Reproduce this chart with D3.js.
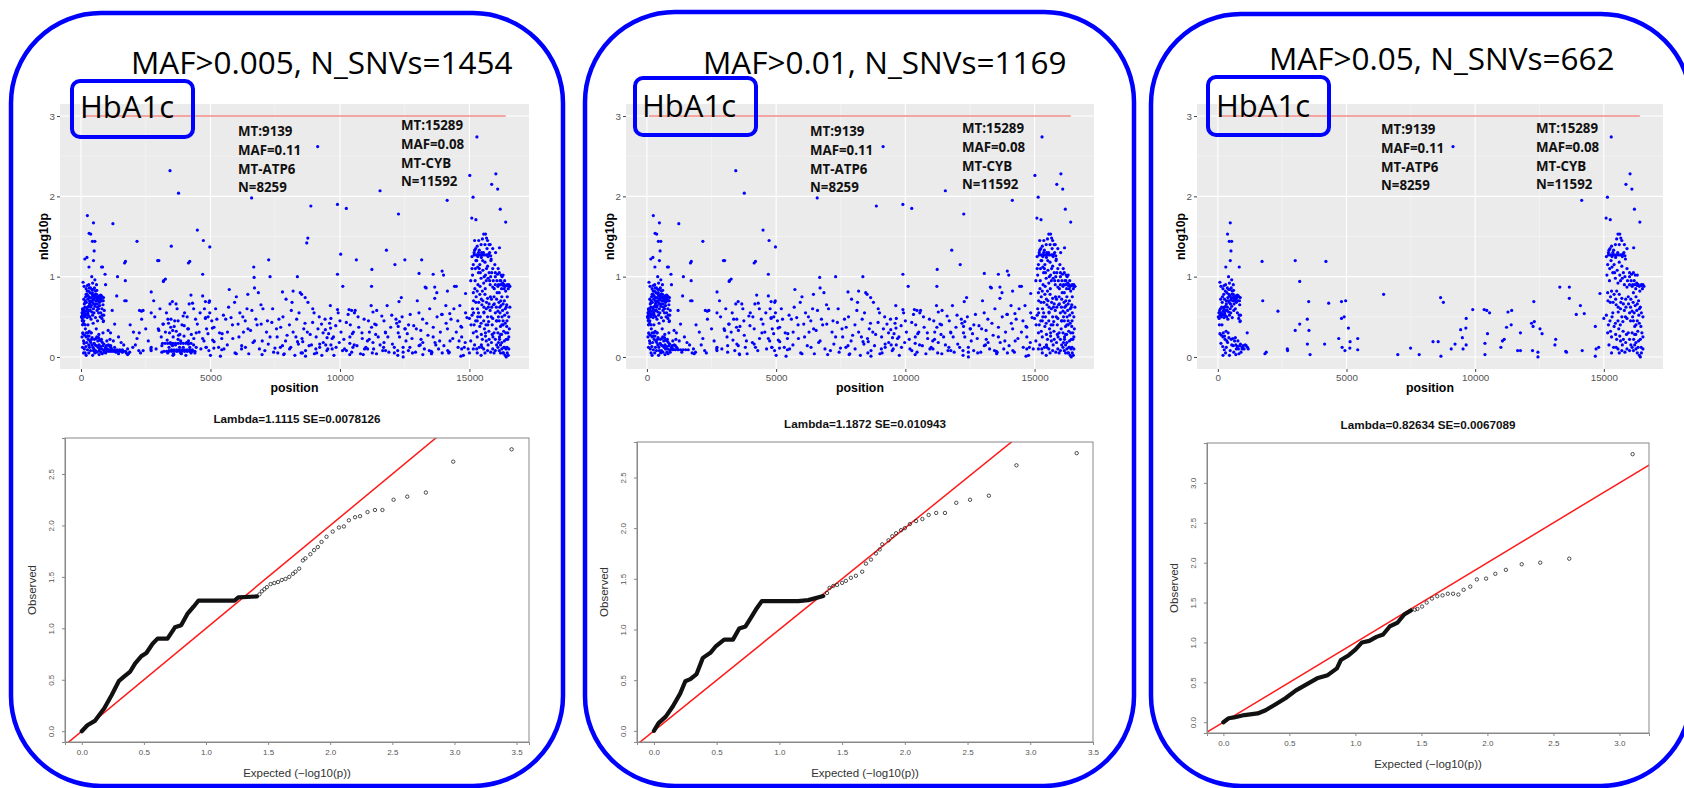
<!DOCTYPE html>
<html><head><meta charset="utf-8">
<script src="https://cdn.jsdelivr.net/npm/d3@7"></script>
<style>body{margin:0;background:#fff}svg{display:block}</style>
</head><body>
<svg id="c" width="1684" height="788"></svg>
<script>
// ---------------- DATA ----------------
const panelTitles = ["MAF>0.005, N_SNVs=1454", "MAF>0.01, N_SNVs=1169", "MAF>0.05, N_SNVs=662"];
const traitLabel = "HbA1c";
const lambdaLabels = ["Lambda=1.1115 SE=0.0078126", "Lambda=1.1872 SE=0.010943", "Lambda=0.82634 SE=0.0067089"];
const annotationPeak1 = ["MT:9139", "MAF=0.11", "MT-ATP6", "N=8259"];
const annotationPeak2 = ["MT:15289", "MAF=0.08", "MT-CYB", "N=11592"];
const positionTicks = [0, 5000, 10000, 15000];
const positionMinorTicks = [2500, 7500, 12500];
const nlogTicks = [0, 1, 2, 3];
const nlogMinorTicks = [0.5, 1.5, 2.5];
const thresholdFrom = 80, thresholdTo = 16400, thresholdValue = 3;
const qqXTicksA = [0, 0.5, 1, 1.5, 2, 2.5, 3, 3.5];
const qqYTicksA = [0, 0.5, 1, 1.5, 2, 2.5];
const qqXTicksB = [0, 0.5, 1, 1.5, 2, 2.5, 3];
const qqYTicksB = [0, 0.5, 1, 1.5, 2, 2.5, 3];

// SNVs with MAF>0.05 (shown in all three panels): [position, nlog10p]
const snvsMAF05 = [
[483,1.67],[376,1.53],[443,1.44],[537,1.44],[510,1.32],[483,1.20],[309,1.12],[832,1.12],[416,1.0],[80,0.93],[537,0.96],[242,0.89],
[120,0.88],[200,0.85],[290,0.82],[350,0.80],[430,0.78],[470,0.84],[520,0.86],[560,0.82],[600,0.78],[650,0.75],[700,0.76],[760,0.77],[820,0.75],[870,0.74],
[180,0.75],[260,0.72],[330,0.70],[390,0.74],[440,0.68],[500,0.71],[580,0.70],[630,0.66],[700,0.72],[780,0.70],[850,0.65],
[150,0.62],[230,0.60],[300,0.63],[360,0.58],[420,0.56],[480,0.60],[540,0.63],[620,0.58],[680,0.60],[760,0.55],[830,0.52],
[40,0.55],[90,0.52],[140,0.50],[190,0.53],[240,0.49],[280,0.52],[340,0.50],[390,0.47],[450,0.52],[500,0.55],[560,0.49],[810,0.48],[870,0.45],
[80,0.29],[140,0.27],[200,0.25],[280,0.22],[350,0.20],[120,0.17],[190,0.13],[250,0.09],[300,0.05],[450,0.02],[200,0.02],[520,0.22],[580,0.23],
[650,0.20],[700,0.15],[760,0.13],[800,0.10],[880,0.16],[940,0.10],[980,0.14],[1060,0.15],[1141,0.30],[1180,0.10],[400,0.30],[620,0.06],[820,0.04],[330,0.12],[700,0.03],
[20,0.50],[50,0.48],[70,0.58],[100,0.60],[130,0.55],[160,0.52],[210,0.57],[250,0.62],[270,0.55],[310,0.58],[330,0.66],[370,0.62],[400,0.70],[420,0.84],
[460,0.76],[490,0.66],[520,0.74],[550,0.78],[590,0.74],[610,0.83],[640,0.72],[670,0.70],[720,0.68],[740,0.74],[790,0.76],[840,0.70],[880,0.52],[860,0.44],
[300,0.90],[370,0.86],[450,0.92],[600,0.90],[230,0.78],[170,0.68],[110,0.72],[60,0.40],[160,0.40],[210,0.30],[260,0.26],[320,0.32],[380,0.18],[430,0.24],
[480,0.08],[540,0.15],[600,0.14],[680,0.24],[720,0.10],[780,0.20],[850,0.14],[900,0.06],[950,0.12],[1020,0.10],[1100,0.14],[1150,0.12],
[1718,1.19],[1745,0.70],[1830,0.04],[1880,0.06],[2336,0.57],[2700,0.10],[2710,0.08],[3007,1.20],[3007,0.33],[3181,0.94],[3181,0.41],[3476,0.47],
[3530,0.69],[3540,0.33],[3480,0.16],[3584,0.03],[4200,1.19],[4308,0.67],[4150,0.16],[4698,0.23],[4805,0.69],[4966,0.70],[4805,0.48],[4910,0.50],
[5074,0.36],[4830,0.12],[4940,0.08],[5130,0.11],[5140,0.19],[5436,0.23],[5436,0.09],[6443,0.78],[6993,0.03],[7490,0.11],[7825,0.03],[8362,0.19],
[8564,0.19],[8657,0.74],[8765,0.68],[8670,0.01],[9070,0.10],[9218,0.16],[9139,2.62],[9436,0.34],[9503,0.24],[9530,0.10],[9638,0.36],[9650,0.15],
[9651,0.48],[9906,0.59],[10350,0.59],[10450,0.58],[10560,0.55],[10380,0.17],[10380,0.03],[10480,0.29],[11000,0.12],[11060,0.20],[11130,0.22],
[11220,0.37],[11275,0.56],[11420,0.58],[11400,0.40],[11650,0.08],[11760,0.08],[11760,0.30],[12190,0.42],[12300,0.44],[12250,0.38],[12280,0.69],
[12230,0.08],[12440,0.06],[12440,0.00],[12520,0.35],[12600,0.29],[13130,0.22],[13100,0.15],[13290,0.87],[13520,0.07],[13550,0.06],[13660,0.87],
[13660,0.73],[13930,0.53],[14090,0.64],[14140,1.95],[14240,0.54],[14160,0.08],[14670,0.38],[14700,0.10],[14800,0.12],[14670,0.01],[14850,0.79],[15000,0.48],
[15140,1.99],[15289,2.74],[15090,1.73],[15250,1.71],[16020,2.28],[15860,2.15],[16090,2.09],[16190,1.84],[16400,1.68],[16160,1.36],
[15200,1.33],[15300,1.38],[15350,1.30],[15450,1.40],[15500,1.47],[15550,1.53],[15620,1.53],[15700,1.45],[15800,1.40],[15900,1.35],
[15100,1.25],[15180,1.27],[15260,1.27],[15340,1.27],[15420,1.27],[15500,1.27],[15580,1.27],[15660,1.27],[15740,1.28],[15820,1.26],
[15150,1.15],[15280,1.20],[15400,1.15],[15600,1.18],[15700,1.13],[15760,1.05],[15900,1.10],[16000,1.00],[16080,1.03],[16150,1.05],[16220,1.02],[16300,1.02],
[15120,1.02],[15220,0.95],[15350,1.05],[15450,0.98],[15550,0.92],[15650,0.95],[15800,0.90],[15900,0.87],[16000,0.90],[16100,0.88],[16200,0.90],
[16300,0.89],[16380,0.88],[16450,0.89],[16500,0.85],[15150,0.80],[15300,0.82],[15400,0.78],[15500,0.82],[15600,0.78],[15700,0.73],[15850,0.72],
[15950,0.75],[16050,0.72],[16150,0.80],[16250,0.75],[16350,0.70],[15250,0.68],[15480,0.65],[15650,0.60],[15800,0.58],[16000,0.55],[16100,0.57],
[16180,0.55],[16280,0.58],[16420,0.62],[16520,0.50],[15100,0.52],[15350,0.55],[15550,0.45],[15700,0.50],[15900,0.48],[16150,0.45],[16250,0.40],
[16380,0.42],[15180,0.40],[15400,0.38],[15580,0.35],[15750,0.32],[15950,0.30],[16100,0.30],[16200,0.28],[16320,0.32],[15150,0.30],[15300,0.25],
[15500,0.22],[15650,0.20],[15850,0.18],[16050,0.15],[16250,0.18],[16350,0.20],[16450,0.12],[15200,0.15],[15380,0.12],[15550,0.10],[15700,0.08],
[15900,0.10],[16150,0.08],[16300,0.05],[16380,0.02],[16420,0.00],[16250,0.10],[15600,0.05],[16100,0.12],[16520,0.10],
[15180,1.30],[15240,1.35],[15320,1.25],[15380,1.33],[15460,1.24],[15540,1.30],[15600,1.40],[15660,1.48],[15720,1.25],[15780,1.30],[15840,1.22],
[15230,1.10],[15320,1.12],[15420,1.05],[15520,1.08],[15620,1.02],[15720,0.98],[15820,1.00],[15920,0.95],[16000,1.05],[16060,0.95],[16120,0.90],
[16180,0.95],[16240,0.85],[16280,0.92],[16340,0.90],[16400,0.82],[16460,0.90],[16520,0.90],[16560,0.88],[15160,0.70],[15260,0.75],[15360,0.68],
[15460,0.72],[15560,0.62],[15660,0.68],[15760,0.66],[15860,0.62],[15960,0.66],[16040,0.62],[16140,0.68],[16220,0.64],[16300,0.66],[16380,0.60],
[16460,0.55],[15240,0.45],[15320,0.50],[15450,0.42],[15560,0.56],[15640,0.40],[15740,0.44],[15840,0.50],[16040,0.45],[16120,0.50],[16200,0.38],
[16300,0.45],[16360,0.52],[16440,0.38],[16480,0.30],[15260,0.32],[15460,0.28],[15620,0.26],[15760,0.22],[15880,0.28],[16000,0.22],[16160,0.22],
[16240,0.28],[16420,0.22],[15300,0.05],[15480,0.12],[15720,0.15],[15820,0.06],[16000,0.08],[16200,0.15],[16330,0.12],[16460,0.05],[16520,0.25]
];

// additional SNVs with 0.01<MAF<=0.05 (panels 1 and 2)
const snvsMAF01 = [
[247,1.76],[315,1.54],[150,1.22],[230,1.24],[795,1.12],[930,1.03],[950,0.90],[1233,1.66],[1411,1.0],[1380,0.76],[1205,0.58],[1300,0.41],
[1685,1.17],[1712,0.95],[1690,0.70],[900,0.09],[1000,0.09],[1100,0.09],[1200,0.09],[1300,0.09],[1400,0.09],[1500,0.09],[1600,0.09],
[60,0.60],[110,0.45],[170,0.35],[210,0.68],[270,0.40],[320,0.86],[380,0.30],[420,0.15],[470,0.42],[530,0.05],[590,0.35],[640,0.45],[690,0.28],
[740,0.50],[790,0.22],[850,0.30],[1000,0.20],[1050,0.33],[1120,0.22],[1250,0.20],[1350,0.06],[1450,0.25],[1550,0.18],[1650,0.15],[1750,0.05],[1800,0.10],
[30,0.50],[60,0.52],[90,0.56],[120,0.58],[50,0.45],[100,0.42],[130,0.66],[160,0.70],[200,0.78],[240,0.82],[280,0.76],[320,0.74],[360,0.68],[400,0.64],
[440,0.80],[480,0.72],[520,0.76],[560,0.66],[600,0.70],[640,0.62],[680,0.55],[720,0.64],[770,0.72],[810,0.60],[860,0.70],[900,0.58],[40,0.25],[70,0.30],
[100,0.20],[130,0.10],[160,0.05],[60,0.12],[220,0.18],[260,0.30],[310,0.26],[370,0.08],[410,0.22],[460,0.12],[510,0.17],[560,0.08],[610,0.25],[660,0.12],
[720,0.21],[770,0.06],[830,0.18],[880,0.08],
[2164,1.44],[2260,0.58],[2712,0.81],[2960,1.20],[3192,0.95],[3260,0.97],[3438,2.32],[3767,2.04],[4150,1.17],[4493,1.58],[4726,1.45],[4699,1.03],
[4973,1.37],[5726,0.84],[6000,0.75],[6589,1.98],[6685,0.99],[6700,0.86],[6850,0.80],[7301,1.0],[7781,0.81],[8356,1.0],[8192,0.82],[8520,0.78],
[8877,1.88],[9000,0.55],[9904,1.90],[10247,1.85],[9904,1.03],[10110,0.88],[11548,2.07],[11795,1.33],[12123,1.15],[12260,1.78],[11233,1.09],
[11220,0.88],[13055,1.04],[13600,1.03],[13945,1.07],[14000,1.02],[14493,0.88],[14150,0.82],[13329,0.86],[15014,2.26],
[2027,0.31],[2164,0.23],[2233,0.08],[2397,0.58],[2342,0.47],[2712,0.12],[2712,0.55],[2808,0.70],[2986,0.35],[3123,0.14],[3123,0.06],[3164,0.41],
[3260,0.31],[3329,0.21],[3356,0.47],[3438,0.66],[3466,0.37],[3534,0.14],[3575,0.04],[3671,0.66],[3712,0.60],[3767,0.27],[3808,0.12],[3877,0.04],
[3945,0.51],[3986,0.39],[4082,0.18],[4151,0.35],[4178,0.66],[4247,0.77],[4288,0.08],[4356,0.23],[4425,0.47],[4493,0.41],[4562,0.31],[4630,0.10],
[4699,0.76],[4767,0.60],[4808,0.49],[4836,0.12],[4904,0.29],[4945,0.68],[4973,0.55],[5000,0.02],
[5082,0.21],[5137,0.37],[5247,0.47],[5315,0.12],[5384,0.01],[5452,0.29],[5521,0.10],[5589,0.47],[5658,0.31],[5795,0.49],[5863,0.23],[5932,0.68],
[6000,0.04],[6068,0.41],[6137,0.55],[6205,0.14],[6274,0.31],[6342,0.45],[6411,0.60],[6479,0.04],[6548,0.33],[6644,0.18],[6753,0.47],[6890,0.10],
[6959,0.41],[7027,0.60],[7164,0.31],[7233,0.16],[7370,0.43],[7438,0.06],[7575,0.25],[7644,0.47],[7712,0.37],[7781,0.14],[7849,0.04],[7918,0.72],[7959,0.27],
[8055,0.10],[8123,0.58],[8192,0.31],[8260,0.02],[8329,0.47],[8397,0.16],[8466,0.80],[8534,0.23],[8603,0.35],[8671,0.08],[8740,0.31],[8808,0.14],
[8945,0.43],[9014,0.04],[9082,0.25],[9151,0.35],[9219,0.12],[9288,0.41],[9356,0.18],[9425,0.47],[9493,0.08],[9562,0.29],[9630,0.64],[9699,0.23],
[9767,0.02],[9836,0.39],[9932,0.55],[9973,0.18],[10041,0.31],[10178,0.10],[10247,0.43],[10315,0.53],[10384,0.25],[10452,0.06],[10521,0.31],
[10589,0.58],[10658,0.14],[10726,0.37],[10795,0.04],[10863,0.23],[10932,0.47],
[11068,0.10],[11137,0.31],[11205,0.64],[11274,0.18],[11342,0.41],[11411,0.04],[11479,0.25],[11616,0.51],[11685,0.12],[11753,0.31],[11822,0.64],
[11890,0.06],[11959,0.37],[12027,0.16],[12164,0.47],[12233,0.02],[12301,0.25],[12370,0.74],[12438,0.12],[12507,0.35],[12644,0.08],[12712,0.53],
[12781,0.23],[12849,0.39],[12918,0.06],[12986,0.70],[13055,0.14],[13123,0.33],[13192,0.47],[13260,0.10],[13397,0.27],[13466,0.60],[13534,0.04],
[13603,0.37],[13671,0.18],[13740,0.80],[13808,0.10],[13877,0.31],[13945,0.53],[14014,0.14],[14151,0.35],[14219,0.06],[14288,0.47],[14356,0.23],
[14425,0.88],[14493,0.31],[14562,0.12],[14630,0.64],[14699,0.37],[14767,0.02],[14836,0.18],[14904,0.49],
[5050,0.45],[5200,0.60],[5350,0.30],[5500,0.52],[5650,0.15],[5700,0.62],[5850,0.40],[5950,0.05],[6100,0.25],[6250,0.50],[6350,0.12],[6450,0.35],
[6600,0.58],[6700,0.20],[6800,0.40],[6950,0.65],[7100,0.08],[7200,0.45],[7300,0.25],[7400,0.60],[7550,0.35],[7700,0.12],[7800,0.50],[7900,0.20],
[8050,0.40],[8150,0.68],[8300,0.25],[8420,0.55],[8550,0.05],[8650,0.42],[8850,0.28],[8950,0.60],[9100,0.05],[9200,0.50],[9350,0.30],[9450,0.15],
[9600,0.42],[9750,0.25],[9850,0.12],[10000,0.45],[10150,0.22],[10250,0.08],[10400,0.40],[10550,0.15],[10700,0.50],[10850,0.30],[10950,0.10],
[11100,0.45],[11250,0.05],[11380,0.28],[11550,0.15],[11700,0.45],[11850,0.25],[12000,0.52],[12100,0.12],[12250,0.30],[12400,0.50],[12550,0.20],
[12650,0.40],[12800,0.05],[12950,0.35],[13050,0.55],[13200,0.18],[13350,0.42],[13450,0.08],[13600,0.25],[13750,0.50],[13850,0.20],[13950,0.05],
[14100,0.42],[14250,0.20],[14400,0.60],[14550,0.45],[14700,0.25],[14850,0.55],[14950,0.10],
[1900,0.40],[2100,0.15],[2300,0.05],[2500,0.35],[2600,0.20],[2850,0.50],[2900,0.10],[3050,0.60],[3100,0.25],[3300,0.55],[3400,0.08],[3600,0.38],
[3750,0.45],[3850,0.20],[4000,0.55],[4100,0.50],[4200,0.12],[4350,0.60],[4450,0.30],[4600,0.55],[4750,0.20],[4850,0.35],
[15050,0.95],[15120,0.60],[15200,1.45],[15280,0.10],[15330,0.90],[15380,1.10],[15420,0.50],[15470,1.30],[15520,0.70],[15570,1.00],[15620,0.30],
[15680,1.35],[15730,0.62],[15780,0.95],[15830,1.20],[15880,0.40],[15930,0.65],[15980,1.15],[16030,0.35],[16070,0.80],[16120,0.18],[16170,0.62],
[16210,0.95],[16260,0.50],[16310,0.05],[16340,0.85],[16400,0.30],[16440,0.65],[16480,0.22],[16550,0.88],[16560,0.62],[16500,0.02],[16350,0.12],
[16200,0.05],[15950,0.05],[15450,0.02],[15300,0.45],[15150,0.10],[15050,0.20],[16450,0.45],
[15060,0.40],[15100,1.10],[15160,0.55],[15210,0.85],[15250,1.20],[15310,0.60],[15360,1.45],[15410,0.88],[15460,0.15],[15510,1.20],[15560,0.55],
[15610,0.85],[15660,1.10],[15710,0.40],[15760,1.40],[15810,0.75],[15860,1.05],[15910,0.25],[15960,0.85],[16010,1.30],[16060,0.45],[16110,1.10],
[16160,0.25],[16210,0.70],[16260,1.00],[16300,0.40],[16360,0.95],[16410,0.10],[16460,0.75],[16540,0.35]
];

// additional SNVs with 0.005<MAF<=0.01 (panel 1 only)
const snvsMAF005 = [
[8718,1.42],[8760,1.48],[7248,1.21],[13156,1.21],[12507,1.21],[10029,1.28],[10634,1.21],[6671,1.12],[3487,1.38],
[3350,0.05],[3400,0.12],[3450,0.18],[3500,0.09],[3550,0.02],[3600,0.09],[3650,0.15],[3700,0.09],[3750,0.22],[3800,0.09],[3850,0.05],[3900,0.09],
[3950,0.12],[4000,0.09],[4050,0.02],[4100,0.09],[4150,0.20],[4200,0.09],[4250,0.05],[4300,0.09],[4350,0.15],[3420,0.30],[3560,0.25],[3680,0.32],
[3820,0.28],[3980,0.26],[4120,0.35],[4260,0.28],[3380,0.42],[3620,0.45],[3900,0.40],[4400,0.05],[4450,0.12],
[3150,0.17],[3250,0.17],[3350,0.17],[3450,0.17],[3550,0.17],[3650,0.17],[3750,0.17],[3850,0.17],[3950,0.17],[4050,0.17],[4150,0.17],[4250,0.17],
[3200,0.07],[3300,0.07],[3400,0.07],[3500,0.07],[3600,0.07],[3700,0.07],[3800,0.07],[3900,0.07],[4000,0.07],[4100,0.07],[4200,0.07],[4300,0.07],[4400,0.07],
[1000,0.07],[1080,0.07],[1160,0.07],[1240,0.07],[1320,0.07],[1400,0.07],[1480,0.07],[1560,0.07],[1640,0.07],[1720,0.07],
[100,0.05],[300,0.15],[500,0.10],[700,0.08],[950,0.05],[1150,0.14],[1300,0.12],[1450,0.04],[1600,0.06],[1800,0.03],[2000,0.12],[2250,0.30],[2400,0.08],
[6200,0.10],[7000,0.20],[7600,0.05],[8100,0.12],[8500,0.05],[8900,0.15],[9300,0.02],[9700,0.10],[10100,0.08],[10500,0.12],[10900,0.03],[11300,0.10],
[11700,0.18],[12100,0.05],[12700,0.12],[13200,0.03],[13700,0.15],[14200,0.05],[14600,0.20],[15000,0.05]
];

// QQ plots: [expected, observed]; dense part drawn as a band, tail as open circles
const qqDense1 = [[0,0],[0.045,0.058],[0.105,0.10],[0.18,0.22],[0.24,0.35],[0.30,0.49],[0.34,0.53],[0.39,0.58],[0.43,0.66],[0.48,0.73],[0.52,0.76],[0.57,0.85],[0.61,0.90],[0.69,0.90],[0.75,1.01],[0.80,1.03],[0.85,1.14],[0.90,1.21],[0.94,1.27],[1.23,1.27],[1.26,1.30],[1.41,1.31]];
const qqTail1 = [[1.43,1.33],[1.45,1.36],[1.47,1.38],[1.49,1.40],[1.52,1.43],[1.55,1.44],[1.58,1.45],[1.61,1.47],[1.64,1.48],[1.67,1.50],[1.70,1.53],[1.72,1.55],[1.75,1.58],[1.78,1.66],[1.80,1.68],[1.84,1.72],[1.87,1.76],[1.90,1.79],[1.93,1.84],[1.97,1.89],[2.02,1.94],[2.07,1.98],[2.11,1.99],[2.15,2.05],[2.20,2.08],[2.24,2.09],[2.30,2.13],[2.36,2.15],[2.42,2.15],[2.51,2.25],[2.62,2.28],[2.77,2.32],[2.99,2.62],[3.46,2.74]];
const qqDense2 = [[0,0],[0.037,0.076],[0.094,0.14],[0.15,0.24],[0.21,0.37],[0.25,0.49],[0.29,0.51],[0.34,0.56],[0.39,0.72],[0.45,0.77],[0.49,0.83],[0.54,0.88],[0.56,0.90],[0.63,0.90],[0.68,1.01],[0.73,1.03],[0.78,1.13],[0.82,1.21],[0.86,1.28],[1.15,1.28],[1.23,1.29],[1.35,1.33]];
const qqTail2 = [[1.38,1.36],[1.40,1.41],[1.43,1.43],[1.46,1.44],[1.50,1.46],[1.53,1.48],[1.57,1.51],[1.61,1.53],[1.66,1.57],[1.69,1.65],[1.73,1.69],[1.77,1.75],[1.80,1.79],[1.82,1.84],[1.87,1.88],[1.90,1.92],[1.93,1.95],[1.97,1.98],[2.00,2.00],[2.04,2.04],[2.09,2.07],[2.14,2.09],[2.19,2.13],[2.25,2.15],[2.32,2.15],[2.41,2.25],[2.52,2.28],[2.67,2.32],[2.89,2.62],[3.37,2.74]];
const qqDense3 = [[0,0],[0.04,0.05],[0.08,0.06],[0.16,0.09],[0.26,0.11],[0.32,0.15],[0.39,0.22],[0.47,0.30],[0.55,0.40],[0.63,0.475],[0.71,0.55],[0.79,0.59],[0.86,0.675],[0.89,0.78],[0.95,0.84],[1.0,0.91],[1.05,1.0],[1.105,1.02],[1.16,1.07],[1.21,1.10],[1.26,1.20],[1.32,1.25],[1.37,1.35],[1.42,1.40]];
const qqTail3 = [[1.45,1.41],[1.47,1.42],[1.505,1.45],[1.54,1.50],[1.58,1.55],[1.62,1.58],[1.66,1.59],[1.70,1.61],[1.74,1.61],[1.78,1.60],[1.82,1.66],[1.87,1.70],[1.92,1.79],[1.99,1.80],[2.06,1.86],[2.14,1.91],[2.26,1.98],[2.40,2.00],[2.62,2.05],[3.10,3.36]];

// ---------------- LAYOUT ----------------
const layouts = [
 {frame:[11,13,552,773], title:[131,74], trait:[72,81,121,56], traitText:[80,118],
  man:[60,529,104,369], ann1:[238,136], ann2:[401,130], ylab:44, xlab:388,
  qq:[65,529,438,742], qqx:[-0.135,3.60], qqy:[-0.105,2.85], qqTitle:418},
 {frame:[585,12,549,774], title:[703,74], trait:[635,78,121,57], traitText:[642,117],
  man:[626,1094,104,369], ann1:[810,136], ann2:[962,133], ylab:610, xlab:388,
  qq:[637,1093,442,742], qqx:[-0.135,3.50], qqy:[-0.11,2.85], qqTitle:423},
 {frame:[1151,14,540,772], title:[1269,70], trait:[1208,77,121,58], traitText:[1216,117],
  man:[1197,1663,104,369], ann1:[1381,134], ann2:[1536,133], ylab:1181, xlab:388,
  qq:[1207,1649,443,733], qqx:[-0.124,3.224], qqy:[-0.135,3.50], qqTitle:424}
];
const panelSnvs = [snvsMAF05.concat(snvsMAF01, snvsMAF005), snvsMAF05.concat(snvsMAF01), snvsMAF05];
const panelQQ = [[qqDense1,qqTail1,qqXTicksA,qqYTicksA],[qqDense2,qqTail2,qqXTicksA,qqYTicksA],[qqDense3,qqTail3,qqXTicksB,qqYTicksB]];

const svg = d3.select("#c");
const fmt1 = d3.format(".1f");

layouts.forEach((L, i) => {
  const g = svg.append("g");
  // ---- Manhattan ----
  const [mx0, mx1, my0, my1] = L.man;
  const x = d3.scaleLinear().domain([-810, 17300]).range([mx0, mx1]);
  const y = d3.scaleLinear().domain([-0.15, 3.15]).range([my1, my0]);
  g.append("rect").attr("x", mx0).attr("y", my0).attr("width", mx1 - mx0).attr("height", my1 - my0).attr("fill", "#ebebeb");
  g.selectAll(".vminor").data(positionMinorTicks).join("line").attr("x1", d => x(d)).attr("x2", d => x(d)).attr("y1", my0).attr("y2", my1).attr("stroke", "#f6f6f6").attr("stroke-width", 0.6);
  g.selectAll(".hminor").data(nlogMinorTicks).join("line").attr("y1", d => y(d)).attr("y2", d => y(d)).attr("x1", mx0).attr("x2", mx1).attr("stroke", "#f6f6f6").attr("stroke-width", 0.6);
  g.selectAll(".vmajor").data(positionTicks).join("line").attr("x1", d => x(d)).attr("x2", d => x(d)).attr("y1", my0).attr("y2", my1).attr("stroke", "#fff").attr("stroke-width", 1.1);
  g.selectAll(".hmajor").data(nlogTicks).join("line").attr("y1", d => y(d)).attr("y2", d => y(d)).attr("x1", mx0).attr("x2", mx1).attr("stroke", "#fff").attr("stroke-width", 1.1);
  g.append("line").attr("x1", x(thresholdFrom)).attr("x2", x(thresholdTo)).attr("y1", y(thresholdValue)).attr("y2", y(thresholdValue))
    .attr("stroke", "#f08a84").attr("stroke-width", 1.6);
  g.append("g").selectAll("circle").data(panelSnvs[i]).join("circle")
    .attr("cx", d => x(d[0])).attr("cy", d => y(d[1])).attr("r", 1.6).attr("fill", "#0000ff");
  const ax = g.append("g").attr("transform", `translate(0,${my1})`).call(d3.axisBottom(x).tickValues(positionTicks).tickSize(3).tickPadding(2).tickFormat(d3.format("d")));
  const ay = g.append("g").attr("transform", `translate(${mx0},0)`).call(d3.axisLeft(y).tickValues(nlogTicks).tickSize(3).tickPadding(2).tickFormat(d3.format("d")));
  [ax, ay].forEach(a => {
    a.select(".domain").remove();
    a.selectAll("line").attr("stroke", "#444");
    a.selectAll("text").attr("fill", "#555").style("font", "9.8px 'Liberation Sans', Arial, sans-serif");
  });
  g.append("text").attr("x", (mx0 + mx1) / 2).attr("y", L.xlab).attr("text-anchor", "middle").attr("dominant-baseline", "central")
    .style("font", "bold 12.3px 'Liberation Sans', Arial, sans-serif").text("position");
  g.append("text").attr("transform", `translate(${L.ylab},${(my0 + my1) / 2}) rotate(-90)`).attr("text-anchor", "middle").attr("dominant-baseline", "central")
    .style("font", "bold 12.3px 'Liberation Sans', Arial, sans-serif").text("nlog10p");
  [[annotationPeak1, L.ann1], [annotationPeak2, L.ann2]].forEach(([lines, pos]) => {
    g.selectAll(null).data(lines).join("text").attr("x", pos[0]).attr("y", (d, k) => pos[1] + k * 18.8)
      .style("font", "bold 13.3px 'Open Sans', sans-serif").attr("fill", "#111").text(d => d);
  });

  // ---- QQ plot ----
  const [qx0, qx1, qy0, qy1] = L.qq;
  const [dense, tail, xt, yt] = panelQQ[i];
  const qx = d3.scaleLinear().domain(L.qqx).range([qx0, qx1]);
  const qy = d3.scaleLinear().domain(L.qqy).range([qy1, qy0]);
  const clip = "clip" + i;
  g.append("clipPath").attr("id", clip).append("rect").attr("x", qx0).attr("y", qy0).attr("width", qx1 - qx0).attr("height", qy1 - qy0);
  const lo = Math.max(L.qqx[0], L.qqy[0]) - 0.2, hi = Math.min(L.qqx[1], L.qqy[1]) + 0.5;
  g.append("line").attr("clip-path", `url(#${clip})`).attr("x1", qx(lo)).attr("y1", qy(lo)).attr("x2", qx(hi)).attr("y2", qy(hi))
    .attr("stroke", "#ff1a1a").attr("stroke-width", 1.5);
  g.append("path").datum(dense).attr("d", d3.line().x(d => qx(d[0])).y(d => qy(d[1])))
    .attr("fill", "none").attr("stroke", "#111").attr("stroke-width", 4.2).attr("stroke-linejoin", "round").attr("stroke-linecap", "round");
  g.append("g").selectAll("circle").data(tail).join("circle").attr("cx", d => qx(d[0])).attr("cy", d => qy(d[1])).attr("r", 1.7)
    .attr("fill", "none").attr("stroke", "#222").attr("stroke-width", 0.8);
  g.append("rect").attr("x", qx0).attr("y", qy0).attr("width", qx1 - qx0).attr("height", qy1 - qy0).attr("fill", "none").attr("stroke", "#888").attr("stroke-width", 1);
  const qax = g.append("g").attr("transform", `translate(0,${qy1})`).call(d3.axisBottom(qx).tickValues(xt).tickSize(3).tickPadding(4).tickFormat(fmt1));
  const qay = g.append("g").attr("transform", `translate(${qx0},0)`).call(d3.axisLeft(qy).tickValues(yt).tickSize(3).tickPadding(4).tickFormat(fmt1));
  [qax, qay].forEach(a => {
    a.select(".domain").attr("stroke", "#888");
    a.selectAll("line").attr("stroke", "#888");
    a.selectAll("text").attr("fill", "#555").style("font", "8px 'Liberation Sans', Arial, sans-serif");
  });
  qay.selectAll(".tick text").attr("transform", "rotate(-90)").attr("x", 0).attr("y", -11).attr("dy", "0").attr("text-anchor", "middle");
  g.append("text").attr("x", (qx0 + qx1) / 2).attr("y", qy1 + 31).attr("text-anchor", "middle").attr("dominant-baseline", "central")
    .attr("fill", "#333").style("font", "11.5px 'Liberation Sans', Arial, sans-serif").text("Expected (\u2212log10(p))");
  g.append("text").attr("transform", `translate(${qx0 - 33},${(qy0 + qy1) / 2}) rotate(-90)`).attr("text-anchor", "middle").attr("dominant-baseline", "central")
    .attr("fill", "#333").style("font", "11.5px 'Liberation Sans', Arial, sans-serif").text("Observed");
  g.append("text").attr("x", (qx0 + qx1) / 2).attr("y", L.qqTitle).attr("text-anchor", "middle").attr("dominant-baseline", "central")
    .attr("fill", "#111").style("font", "bold 11.7px 'Liberation Sans', Arial, sans-serif").text(lambdaLabels[i]);

  // ---- frame, titles, trait box ----
  g.append("text").attr("x", L.title[0]).attr("y", L.title[1]).style("font", "31.5px 'Open Sans', sans-serif").attr("fill", "#000").text(panelTitles[i]);
  g.append("rect").attr("x", L.trait[0]).attr("y", L.trait[1]).attr("width", L.trait[2]).attr("height", L.trait[3]).attr("rx", 8)
    .attr("fill", "none").attr("stroke", "#0000ff").attr("stroke-width", 4);
  g.append("text").attr("x", L.traitText[0]).attr("y", L.traitText[1]).style("font", "31px 'Open Sans', sans-serif").attr("fill", "#000").text(traitLabel);
  g.append("rect").attr("x", L.frame[0]).attr("y", L.frame[1]).attr("width", L.frame[2]).attr("height", L.frame[3]).attr("rx", 90).attr("ry", 90)
    .attr("fill", "none").attr("stroke", "#0000ff").attr("stroke-width", 4.5);
});
</script>
</body></html>
